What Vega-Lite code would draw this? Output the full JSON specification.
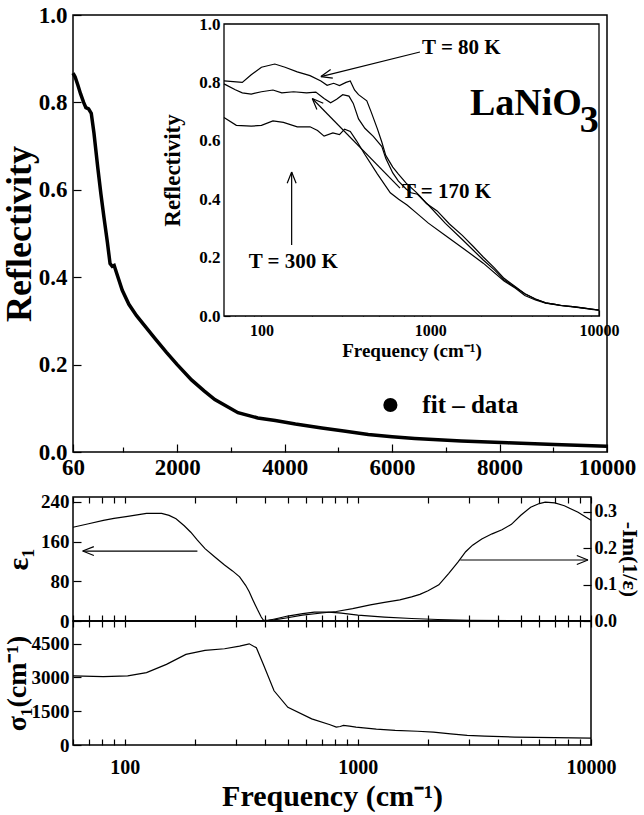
{
  "$schema": "https://vega.github.io/schema/vega-lite/v6.json",
  "padding": {"left": 0, "top": 3, "right": 0, "bottom": 0},
  "background": "white",
  "config": {
    "font": "Liberation Serif",
    "view": {"stroke": "black", "strokeWidth": 1.5},
    "axis": {
      "labelFont": "Liberation Serif", "labelFontWeight": "bold", "labelColor": "black", "labelFontSize": 20,
      "titleFont": "Liberation Serif", "titleFontWeight": "bold", "titleColor": "black",
      "domain": false, "tickColor": "black", "tickWidth": 1.2, "grid": false,
      "labelFlush": false, "labelOverlap": false
    },
    "text": {"font": "Liberation Serif", "fontWeight": "bold", "color": "black"}
  },
  "datasets": {
    "mainR": [
      {"f": 60, "R": 0.867}, {"f": 100, "R": 0.858}, {"f": 150, "R": 0.84}, {"f": 200, "R": 0.82},
      {"f": 258, "R": 0.8}, {"f": 300, "R": 0.788}, {"f": 350, "R": 0.785}, {"f": 400, "R": 0.775},
      {"f": 450, "R": 0.73}, {"f": 522, "R": 0.65}, {"f": 580, "R": 0.59}, {"f": 636, "R": 0.537},
      {"f": 700, "R": 0.48}, {"f": 750, "R": 0.431}, {"f": 790, "R": 0.425}, {"f": 826, "R": 0.427},
      {"f": 870, "R": 0.41}, {"f": 977, "R": 0.37}, {"f": 1100, "R": 0.338}, {"f": 1243, "R": 0.312},
      {"f": 1400, "R": 0.288}, {"f": 1584, "R": 0.26}, {"f": 1800, "R": 0.228}, {"f": 2000, "R": 0.2},
      {"f": 2266, "R": 0.165}, {"f": 2500, "R": 0.14}, {"f": 2700, "R": 0.12}, {"f": 3131, "R": 0.09},
      {"f": 3500, "R": 0.078}, {"f": 3825, "R": 0.072}, {"f": 4200, "R": 0.064}, {"f": 4691, "R": 0.055},
      {"f": 5100, "R": 0.048}, {"f": 5556, "R": 0.04}, {"f": 6000, "R": 0.035}, {"f": 6422, "R": 0.031},
      {"f": 7288, "R": 0.025}, {"f": 8155, "R": 0.021}, {"f": 9022, "R": 0.017}, {"f": 10000, "R": 0.013}
    ],
    "inset": [
      {"T": "80 K", "f": 60, "R": 0.805}, {"T": "80 K", "f": 77, "R": 0.8}, {"T": "80 K", "f": 87, "R": 0.826},
      {"T": "80 K", "f": 100, "R": 0.852}, {"T": "80 K", "f": 120, "R": 0.863}, {"T": "80 K", "f": 138, "R": 0.852},
      {"T": "80 K", "f": 163, "R": 0.836}, {"T": "80 K", "f": 194, "R": 0.823}, {"T": "80 K", "f": 225, "R": 0.805},
      {"T": "80 K", "f": 245, "R": 0.79}, {"T": "80 K", "f": 268, "R": 0.797}, {"T": "80 K", "f": 290, "R": 0.789},
      {"T": "80 K", "f": 317, "R": 0.8}, {"T": "80 K", "f": 336, "R": 0.805}, {"T": "80 K", "f": 356, "R": 0.774},
      {"T": "80 K", "f": 376, "R": 0.758}, {"T": "80 K", "f": 421, "R": 0.737}, {"T": "80 K", "f": 446, "R": 0.7},
      {"T": "80 K", "f": 487, "R": 0.64}, {"T": "80 K", "f": 517, "R": 0.595}, {"T": "80 K", "f": 545, "R": 0.55},
      {"T": "80 K", "f": 600, "R": 0.51}, {"T": "80 K", "f": 648, "R": 0.486}, {"T": "80 K", "f": 720, "R": 0.455},
      {"T": "80 K", "f": 821, "R": 0.425}, {"T": "80 K", "f": 870, "R": 0.41}, {"T": "80 K", "f": 950, "R": 0.385},
      {"T": "80 K", "f": 1099, "R": 0.36}, {"T": "80 K", "f": 1300, "R": 0.315}, {"T": "80 K", "f": 1549, "R": 0.276},
      {"T": "80 K", "f": 1800, "R": 0.238}, {"T": "80 K", "f": 2061, "R": 0.202}, {"T": "80 K", "f": 2400, "R": 0.165},
      {"T": "80 K", "f": 2738, "R": 0.129}, {"T": "80 K", "f": 3200, "R": 0.1}, {"T": "80 K", "f": 3635, "R": 0.076},
      {"T": "80 K", "f": 4200, "R": 0.058}, {"T": "80 K", "f": 4830, "R": 0.045}, {"T": "80 K", "f": 5500, "R": 0.04},
      {"T": "80 K", "f": 6000, "R": 0.036}, {"T": "80 K", "f": 7000, "R": 0.032}, {"T": "80 K", "f": 8000, "R": 0.028},
      {"T": "80 K", "f": 9000, "R": 0.024}, {"T": "80 K", "f": 10000, "R": 0.02},
      {"T": "170 K", "f": 60, "R": 0.795}, {"T": "170 K", "f": 70, "R": 0.775}, {"T": "170 K", "f": 77, "R": 0.764},
      {"T": "170 K", "f": 87, "R": 0.76}, {"T": "170 K", "f": 100, "R": 0.768}, {"T": "170 K", "f": 117, "R": 0.774},
      {"T": "170 K", "f": 132, "R": 0.764}, {"T": "170 K", "f": 155, "R": 0.768}, {"T": "170 K", "f": 185, "R": 0.764},
      {"T": "170 K", "f": 210, "R": 0.767}, {"T": "170 K", "f": 235, "R": 0.745}, {"T": "170 K", "f": 257, "R": 0.73},
      {"T": "170 K", "f": 279, "R": 0.742}, {"T": "170 K", "f": 303, "R": 0.758}, {"T": "170 K", "f": 330, "R": 0.753},
      {"T": "170 K", "f": 350, "R": 0.728}, {"T": "170 K", "f": 376, "R": 0.675}, {"T": "170 K", "f": 410, "R": 0.643},
      {"T": "170 K", "f": 460, "R": 0.615}, {"T": "170 K", "f": 517, "R": 0.58}, {"T": "170 K", "f": 545, "R": 0.54},
      {"T": "170 K", "f": 600, "R": 0.49}, {"T": "170 K", "f": 648, "R": 0.462}, {"T": "170 K", "f": 720, "R": 0.435},
      {"T": "170 K", "f": 770, "R": 0.422}, {"T": "170 K", "f": 840, "R": 0.417}, {"T": "170 K", "f": 900, "R": 0.4},
      {"T": "170 K", "f": 975, "R": 0.38}, {"T": "170 K", "f": 1230, "R": 0.317}, {"T": "170 K", "f": 1549, "R": 0.262},
      {"T": "170 K", "f": 1800, "R": 0.225}, {"T": "170 K", "f": 2061, "R": 0.192}, {"T": "170 K", "f": 2400, "R": 0.158},
      {"T": "170 K", "f": 2738, "R": 0.124}, {"T": "170 K", "f": 3200, "R": 0.098}, {"T": "170 K", "f": 3635, "R": 0.076},
      {"T": "170 K", "f": 4200, "R": 0.058}, {"T": "170 K", "f": 4830, "R": 0.045}, {"T": "170 K", "f": 5500, "R": 0.04},
      {"T": "170 K", "f": 6000, "R": 0.036}, {"T": "170 K", "f": 7000, "R": 0.032}, {"T": "170 K", "f": 8000, "R": 0.028},
      {"T": "170 K", "f": 9000, "R": 0.024}, {"T": "170 K", "f": 10000, "R": 0.02},
      {"T": "300 K", "f": 60, "R": 0.68}, {"T": "300 K", "f": 71, "R": 0.653}, {"T": "300 K", "f": 87, "R": 0.65},
      {"T": "300 K", "f": 100, "R": 0.653}, {"T": "300 K", "f": 117, "R": 0.668}, {"T": "300 K", "f": 135, "R": 0.663},
      {"T": "300 K", "f": 163, "R": 0.648}, {"T": "300 K", "f": 194, "R": 0.648}, {"T": "300 K", "f": 215, "R": 0.635},
      {"T": "300 K", "f": 235, "R": 0.616}, {"T": "300 K", "f": 265, "R": 0.627}, {"T": "300 K", "f": 290, "R": 0.621},
      {"T": "300 K", "f": 311, "R": 0.64}, {"T": "300 K", "f": 336, "R": 0.632}, {"T": "300 K", "f": 366, "R": 0.6},
      {"T": "300 K", "f": 410, "R": 0.553}, {"T": "300 K", "f": 487, "R": 0.486}, {"T": "300 K", "f": 580, "R": 0.422},
      {"T": "300 K", "f": 650, "R": 0.4}, {"T": "300 K", "f": 729, "R": 0.38}, {"T": "300 K", "f": 821, "R": 0.355},
      {"T": "300 K", "f": 975, "R": 0.318}, {"T": "300 K", "f": 1230, "R": 0.276}, {"T": "300 K", "f": 1549, "R": 0.234},
      {"T": "300 K", "f": 2061, "R": 0.181}, {"T": "300 K", "f": 2738, "R": 0.12}, {"T": "300 K", "f": 3200, "R": 0.095},
      {"T": "300 K", "f": 3635, "R": 0.07}, {"T": "300 K", "f": 4200, "R": 0.055}, {"T": "300 K", "f": 4830, "R": 0.044},
      {"T": "300 K", "f": 5500, "R": 0.039}, {"T": "300 K", "f": 6000, "R": 0.035}, {"T": "300 K", "f": 7000, "R": 0.031},
      {"T": "300 K", "f": 8000, "R": 0.027}, {"T": "300 K", "f": 9000, "R": 0.023}, {"T": "300 K", "f": 10000, "R": 0.02}
    ],
    "eps": [
      {"f": 60, "v": 189}, {"f": 70, "v": 196}, {"f": 81, "v": 203}, {"f": 90, "v": 207}, {"f": 103, "v": 211},
      {"f": 124, "v": 217}, {"f": 144, "v": 217}, {"f": 155, "v": 213}, {"f": 166, "v": 206}, {"f": 180, "v": 192},
      {"f": 192, "v": 179}, {"f": 205, "v": 163}, {"f": 221, "v": 146}, {"f": 245, "v": 128}, {"f": 268, "v": 113},
      {"f": 290, "v": 101}, {"f": 311, "v": 89}, {"f": 330, "v": 72}, {"f": 342, "v": 59}, {"f": 355, "v": 42},
      {"f": 371, "v": 23}, {"f": 385, "v": 8}, {"f": 393, "v": 2}, {"f": 410, "v": 1}, {"f": 450, "v": 5},
      {"f": 500, "v": 10}, {"f": 580, "v": 15}, {"f": 650, "v": 18}, {"f": 750, "v": 18}, {"f": 850, "v": 16},
      {"f": 1000, "v": 12}, {"f": 1300, "v": 8}, {"f": 1700, "v": 5}, {"f": 2200, "v": 3}, {"f": 3000, "v": 1.5},
      {"f": 5000, "v": 0.8}, {"f": 10000, "v": 0.5}
    ],
    "loss": [
      {"f": 60, "v": 0}, {"f": 300, "v": 0}, {"f": 400, "v": 0.001}, {"f": 437, "v": 0.003}, {"f": 500, "v": 0.009},
      {"f": 578, "v": 0.016}, {"f": 700, "v": 0.022}, {"f": 808, "v": 0.026}, {"f": 950, "v": 0.034},
      {"f": 1131, "v": 0.044}, {"f": 1300, "v": 0.051}, {"f": 1513, "v": 0.058}, {"f": 1700, "v": 0.066},
      {"f": 1845, "v": 0.073}, {"f": 2000, "v": 0.083}, {"f": 2225, "v": 0.099}, {"f": 2450, "v": 0.13},
      {"f": 2692, "v": 0.162}, {"f": 2900, "v": 0.19}, {"f": 3105, "v": 0.208}, {"f": 3400, "v": 0.225},
      {"f": 3766, "v": 0.239}, {"f": 4150, "v": 0.25}, {"f": 4556, "v": 0.265}, {"f": 5000, "v": 0.29},
      {"f": 5510, "v": 0.312}, {"f": 6000, "v": 0.322}, {"f": 6364, "v": 0.326}, {"f": 7000, "v": 0.324},
      {"f": 7685, "v": 0.316}, {"f": 8800, "v": 0.298}, {"f": 10000, "v": 0.276}
    ],
    "sigma": [
      {"f": 60, "v": 3066}, {"f": 81, "v": 3030}, {"f": 103, "v": 3066}, {"f": 124, "v": 3212}, {"f": 151, "v": 3577},
      {"f": 183, "v": 4017}, {"f": 221, "v": 4193}, {"f": 268, "v": 4268}, {"f": 311, "v": 4385}, {"f": 342, "v": 4488},
      {"f": 367, "v": 4312}, {"f": 393, "v": 3577}, {"f": 437, "v": 2405}, {"f": 501, "v": 1672}, {"f": 634, "v": 1159},
      {"f": 760, "v": 900}, {"f": 808, "v": 792}, {"f": 840, "v": 820}, {"f": 867, "v": 866}, {"f": 920, "v": 840},
      {"f": 982, "v": 792}, {"f": 1200, "v": 700}, {"f": 1445, "v": 645}, {"f": 1800, "v": 610}, {"f": 2110, "v": 572},
      {"f": 2500, "v": 490}, {"f": 2945, "v": 425}, {"f": 3500, "v": 390}, {"f": 4709, "v": 352}, {"f": 7000, "v": 330},
      {"f": 10000, "v": 308}
    ]
  },
  "spacing": 12,
  "vconcat": [
    {
      "width": 534,
      "height": 437,
      "layer": [
        {
          "layer": [
            {
              "data": {"name": "mainR"},
              "mark": {"type": "line", "strokeWidth": 3.5, "color": "black"},
              "encoding": {
                "x": {"field": "f", "type": "quantitative",
                  "scale": {"domain": [60, 10000], "nice": false, "zero": false},
                  "axis": {"orient": "bottom", "values": [60, 2000, 4000, 6000, 8000, 10000], "format": "d", "title": null, "tickSize": -8, "labelPadding": 12, "labelFontSize": 23}},
                "y": {"field": "R", "type": "quantitative",
                  "scale": {"domain": [0, 1], "nice": false},
                  "axis": {"orient": "left", "values": [0, 0.2, 0.4, 0.6, 0.8, 1.0], "format": ".1f", "title": "Reflectivity", "titleFontSize": 36, "titlePadding": 0, "labelPadding": 14, "labelFontSize": 23, "tickSize": -8}}
              }
            },
            {
              "data": {"values": [{"f": 5968, "R": 0.1075}]},
              "mark": {"type": "point", "filled": true, "color": "black", "size": 200, "opacity": 1},
              "encoding": {"x": {"field": "f", "type": "quantitative"}, "y": {"field": "R", "type": "quantitative"}}
            },
            {
              "data": {"values": [{"f": 6563, "R": 0.1075, "label": "fit  –  data"}]},
              "mark": {"type": "text", "align": "left", "baseline": "middle", "fontSize": 25},
              "encoding": {"x": {"field": "f", "type": "quantitative"}, "y": {"field": "R", "type": "quantitative"}, "text": {"field": "label"}}
            }
          ]
        },
        {
          "data": {"name": "mainR"},
          "mark": {"type": "point", "opacity": 0},
          "encoding": {
            "x": {"field": "f", "type": "quantitative",
              "scale": {"domain": [60, 10000], "nice": false, "zero": false},
              "axis": {"orient": "bottom", "values": [1000, 3000, 5000, 7000, 9000], "labels": false, "title": null, "tickSize": -5}}
          }
        },
        {
          "layer": [
            {
              "data": {"values": [{"a": 1}]},
              "mark": {"type": "rect", "fill": "white", "stroke": "black", "strokeWidth": 1.3},
              "encoding": {
                "x": {"datum": 60, "type": "quantitative"}, "x2": {"datum": 10000},
                "y": {"datum": 0, "type": "quantitative"}, "y2": {"datum": 1}
              }
            },
            {
              "data": {"name": "inset"},
              "mark": {"type": "line", "strokeWidth": 1.2, "color": "black"},
              "encoding": {
                "x": {"field": "f", "type": "quantitative",
                  "scale": {"type": "log", "domain": [60, 10000], "range": [151, 526], "nice": false},
                  "axis": {"orient": "bottom", "offset": -136,
                    "values": [60, 70, 80, 90, 100, 200, 300, 400, 500, 600, 700, 800, 900, 1000, 2000, 3000, 4000, 5000, 6000, 7000, 8000, 9000, 10000],
                    "labelExpr": "datum.value == 100 || datum.value == 1000 || datum.value == 10000 ? datum.label : ''",
                    "format": "d", "title": "Frequency  (cm⁻¹)", "titleFontSize": 19, "titlePadding": 3,
                    "labelFontSize": 16, "tickSize": -6, "labelPadding": 12}},
                "y": {"field": "R", "type": "quantitative",
                  "scale": {"domain": [0, 1], "range": [301, 9], "nice": false},
                  "axis": {"orient": "left", "offset": -151, "values": [0, 0.2, 0.4, 0.6, 0.8, 1.0], "format": ".1f",
                    "title": "Reflectivity", "titleFontSize": 23, "titlePadding": 14, "labelFontSize": 17, "tickSize": -6, "labelPadding": 10}},
                "detail": {"field": "T"}
              }
            },
            {
              "data": {"values": [
                {"f": 869, "R": 0.904, "f2": 225, "R2": 0.82},
                {"f": 662, "R": 0.438, "f2": 200, "R2": 0.745},
                {"f": 151, "R": 0.243, "f2": 151, "R2": 0.493}
              ]},
              "mark": {"type": "rule", "strokeWidth": 1.2, "color": "black"},
              "encoding": {
                "x": {"field": "f", "type": "quantitative"}, "x2": {"field": "f2"},
                "y": {"field": "R", "type": "quantitative"}, "y2": {"field": "R2"}
              }
            },
            {
              "data": {"values": [{"f": 225, "R": 0.82}]},
              "mark": {"type": "point", "shape": "M0,0L-1,-0.4M0,0L-1,0.4", "filled": false, "color": "black", "strokeWidth": 1.2, "size": 500, "angle": 166, "opacity": 1},
              "encoding": {"x": {"field": "f", "type": "quantitative"}, "y": {"field": "R", "type": "quantitative"}}
            },
            {
              "data": {"values": [{"f": 200, "R": 0.745}]},
              "mark": {"type": "point", "shape": "M0,0L-1,-0.4M0,0L-1,0.4", "filled": false, "color": "black", "strokeWidth": 1.2, "size": 500, "angle": 225.5, "opacity": 1},
              "encoding": {"x": {"field": "f", "type": "quantitative"}, "y": {"field": "R", "type": "quantitative"}}
            },
            {
              "data": {"values": [{"f": 151, "R": 0.493}]},
              "mark": {"type": "point", "shape": "M0,0L-1,-0.4M0,0L-1,0.4", "filled": false, "color": "black", "strokeWidth": 1.2, "size": 500, "angle": 270, "opacity": 1},
              "encoding": {"x": {"field": "f", "type": "quantitative"}, "y": {"field": "R", "type": "quantitative"}}
            },
            {
              "data": {"values": [
                {"f": 894, "R": 0.918, "label": "T = 80 K"},
                {"f": 680, "R": 0.425, "label": "T = 170 K"},
                {"f": 84, "R": 0.185, "label": "T = 300 K"}
              ]},
              "mark": {"type": "text", "align": "left", "baseline": "middle", "fontSize": 21},
              "encoding": {"x": {"field": "f", "type": "quantitative"}, "y": {"field": "R", "type": "quantitative"}, "text": {"field": "label"}}
            },
            {
              "data": {"values": [
                {"f": 1720, "R": 0.688, "label": "LaNiO"},
                {"f": 7700, "R": 0.63, "label": "3"}
              ]},
              "mark": {"type": "text", "align": "left", "baseline": "alphabetic", "fontSize": 38},
              "encoding": {"x": {"field": "f", "type": "quantitative"}, "y": {"field": "R", "type": "quantitative"}, "text": {"field": "label"}}
            }
          ]
        }
      ],
      "resolve": {"scale": {"x": "independent", "y": "independent"}, "axis": {"x": "independent", "y": "independent"}}
    },
    {
      "spacing": 0,
      "bounds": "flush",
      "vconcat": [
        {
          "width": 518,
          "height": 124,
          "layer": [
            {
              "layer": [
                {
                  "data": {"name": "eps"},
                  "mark": {"type": "line", "strokeWidth": 1.2, "color": "black"},
                  "encoding": {
                    "x": {"field": "f", "type": "quantitative",
                      "scale": {"type": "log", "domain": [60, 10000], "nice": false},
                      "axis": {"orient": "top", "values": [60, 70, 80, 90, 100, 200, 300, 400, 500, 600, 700, 800, 900, 1000, 2000, 3000, 4000, 5000, 6000, 7000, 8000, 9000, 10000], "labels": false, "title": null, "tickSize": -6}},
                    "y": {"field": "v", "type": "quantitative",
                      "scale": {"domain": [0, 250], "nice": false},
                      "axis": {"orient": "left", "values": [0, 80, 160, 240], "title": "ε₁", "titleFontSize": 30, "titlePadding": 7, "labelPadding": 12, "labelFontSize": 19, "tickSize": -8}}
                  }
                },
                {
                  "data": {"values": [{"f": 205, "v": 141, "f2": 66}, {"f": 2750, "v": 123, "f2": 9708}]},
                  "mark": {"type": "rule", "strokeWidth": 1.2, "color": "black"},
                  "encoding": {"x": {"field": "f", "type": "quantitative"}, "x2": {"field": "f2"}, "y": {"field": "v", "type": "quantitative"}}
                },
                {
                  "data": {"values": [{"f": 66, "v": 141}]},
                  "mark": {"type": "point", "shape": "M0,0L-1,-0.4M0,0L-1,0.4", "filled": false, "color": "black", "strokeWidth": 1.2, "size": 500, "angle": 180, "opacity": 1},
                  "encoding": {"x": {"field": "f", "type": "quantitative"}, "y": {"field": "v", "type": "quantitative"}}
                },
                {
                  "data": {"values": [{"f": 9708, "v": 123}]},
                  "mark": {"type": "point", "shape": "M0,0L-1,-0.4M0,0L-1,0.4", "filled": false, "color": "black", "strokeWidth": 1.2, "size": 500, "angle": 0, "opacity": 1},
                  "encoding": {"x": {"field": "f", "type": "quantitative"}, "y": {"field": "v", "type": "quantitative"}}
                }
              ]
            },
            {
              "data": {"name": "loss"},
              "mark": {"type": "line", "strokeWidth": 1.2, "color": "black"},
              "encoding": {
                "x": {"field": "f", "type": "quantitative",
                  "scale": {"type": "log", "domain": [60, 10000], "nice": false},
                  "axis": {"orient": "bottom", "values": [60, 70, 80, 90, 100, 200, 300, 400, 500, 600, 700, 800, 900, 1000, 2000, 3000, 4000, 5000, 6000, 7000, 8000, 9000, 10000], "labels": false, "title": null, "tickSize": -6}},
                "y": {"field": "v", "type": "quantitative",
                  "scale": {"domain": [0, 0.34], "nice": false},
                  "axis": {"orient": "right", "values": [0, 0.1, 0.2, 0.3], "format": ".1f", "title": "-Im(1/ε)", "titleFontSize": 22, "titlePadding": 1, "labelPadding": 11, "labelFontSize": 18, "tickSize": -8}}
              }
            }
          ],
          "resolve": {"scale": {"x": "independent", "y": "independent"}, "axis": {"x": "independent", "y": "independent"}}
        },
        {
          "width": 518,
          "height": 124,
          "layer": [
            {
              "data": {"name": "sigma"},
              "mark": {"type": "line", "strokeWidth": 1.2, "color": "black"},
              "encoding": {
                "x": {"field": "f", "type": "quantitative",
                  "scale": {"type": "log", "domain": [60, 10000], "nice": false},
                  "axis": {"orient": "bottom", "values": [60, 70, 80, 90, 100, 200, 300, 400, 500, 600, 700, 800, 900, 1000, 2000, 3000, 4000, 5000, 6000, 7000, 8000, 9000, 10000],
                    "labelExpr": "datum.value == 100 || datum.value == 1000 || datum.value == 10000 ? datum.label : ''",
                    "format": "d", "title": "Frequency   (cm⁻¹)", "titleFontSize": 30, "titlePadding": 4, "tickSize": -6, "labelPadding": 18}},
                "y": {"field": "v", "type": "quantitative",
                  "scale": {"domain": [0, 5500], "nice": false},
                  "axis": {"orient": "left", "values": [0, 1500, 3000, 4500], "format": "d", "title": "σ₁(cm⁻¹)", "titleFontSize": 28, "titlePadding": 0, "labelPadding": 12, "labelFontSize": 19, "tickSize": -8}}
              }
            },
            {
              "data": {"name": "sigma"},
              "mark": {"type": "point", "opacity": 0},
              "encoding": {
                "x": {"field": "f", "type": "quantitative",
                  "scale": {"type": "log", "domain": [60, 10000], "nice": false},
                  "axis": {"orient": "top", "values": [60, 70, 80, 90, 100, 200, 300, 400, 500, 600, 700, 800, 900, 1000, 2000, 3000, 4000, 5000, 6000, 7000, 8000, 9000, 10000], "labels": false, "title": null, "tickSize": -6}}
              }
            }
          ],
          "resolve": {"scale": {"x": "independent"}, "axis": {"x": "independent"}}
        }
      ]
    }
  ]
}
